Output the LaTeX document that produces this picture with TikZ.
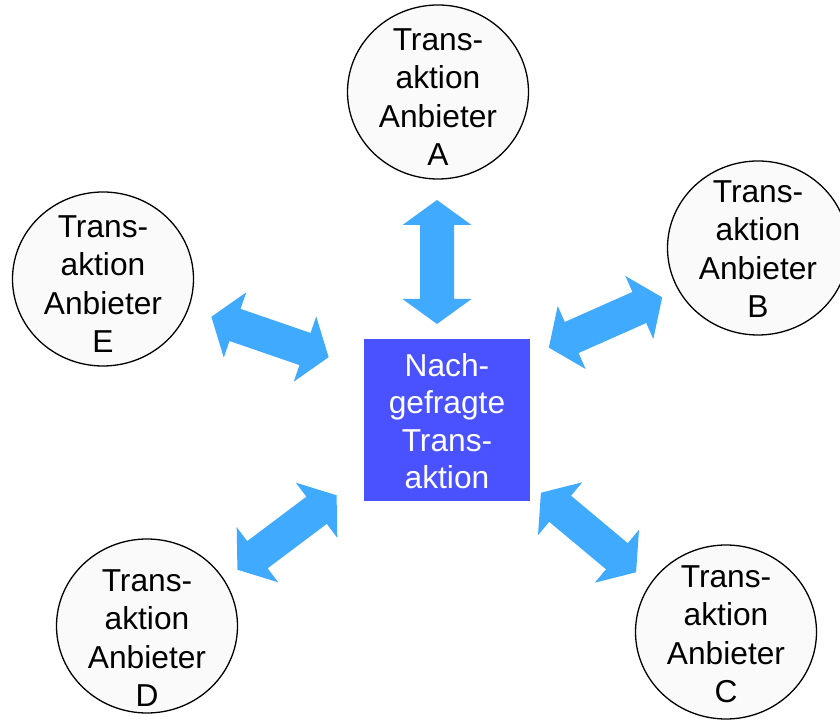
\documentclass[tikz,border=0pt]{standalone}
\usepackage{fontspec}
\setmainfont{Liberation Sans}
\usetikzlibrary{shapes.geometric}
\definecolor{arrowblue}{RGB}{64,170,255}
\definecolor{boxblue}{RGB}{74,82,255}
\definecolor{circfill}{RGB}{250,250,250}
\tikzset{
  provider/.style={ellipse, draw=black, line width=1.3pt, fill=circfill,
    minimum width=181pt, minimum height=174pt, inner sep=0pt},
  provtext/.style={align=center, inner sep=0pt,
    font=\fontsize{31.7}{38.5}\selectfont},
  demand/.style={rectangle, fill=boxblue, minimum width=166pt, minimum height=162pt,
    inner sep=0pt},
  demandtext/.style={align=center, inner sep=0pt, text=white,
    font=\fontsize{31.7}{37.5}\selectfont},
  dblarrow/.pic={
    \fill[arrowblue] (-62,0) -- (-37,34.5) -- (-37,17) -- (37,17) -- (37,34.5)
      -- (62,0) -- (37,-34.5) -- (37,-17) -- (-37,-17) -- (-37,-34.5) -- cycle;
  }
}
\begin{document}
\begin{tikzpicture}[x=1pt,y=1pt]
\useasboundingbox (0,0) rectangle (840,720);
% central box
\node[demand] (N) at (447,300) {};
\node[demandtext] (Nt) at ([yshift=-1pt]N.center) {Nach-\\gefragte\\Trans-\\aktion};
% providers
\node[provider] (A) at (438,628) {};
\node[provtext] (At) at ([yshift=-5pt]A.center) {Trans-\\aktion\\Anbieter\\A};
\node[provider] (B) at (758,472) {};
\node[provtext] (Bt) at ([yshift=-1pt]B.center) {Trans-\\aktion\\Anbieter\\B};
\node[provider] (C) at (726,88) {};
\node[provtext] (Ct) at ([yshift=-2pt]C.center) {Trans-\\aktion\\Anbieter\\C};
\node[provider] (D) at (147,94) {};
\node[provtext] (Dt) at ([yshift=-12pt]D.center) {Trans-\\aktion\\Anbieter\\D};
\node[provider] (E) at (103,441) {};
\node[provtext] (Et) at ([yshift=-5pt]E.center) {Trans-\\aktion\\Anbieter\\E};
% double block arrows
\pic[rotate=90] (arrA) at (437,458) {dblarrow};
\pic[rotate=23.9] (arrB) at (605.5,397.5) {dblarrow};
\pic[rotate=-39.9] (arrC) at (588.5,187.5) {dblarrow};
\pic[rotate=36.9] (arrD) at (287,187.5) {dblarrow};
\pic[rotate=-19] (arrE) at (270,383) {dblarrow};
\end{tikzpicture}
\end{document}
